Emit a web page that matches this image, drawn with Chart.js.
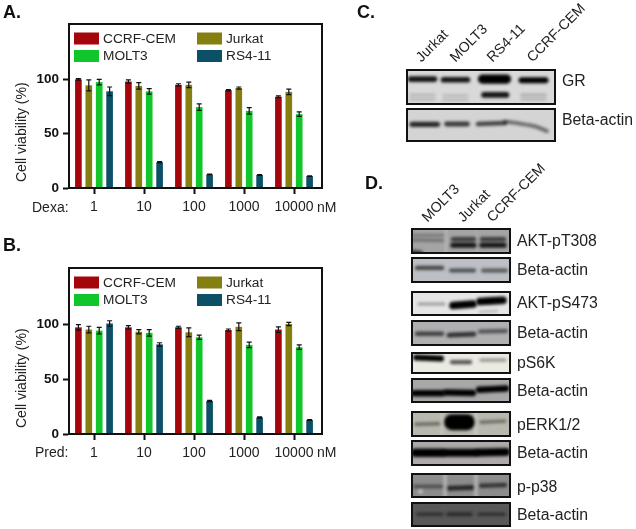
<!DOCTYPE html>
<html>
<head>
<meta charset="utf-8">
<script src="https://cdn.jsdelivr.net/npm/chart.js@4"></script>
<style>
  body { margin: 0; background: #fff; width: 636px; height: 529px; position: relative; overflow: hidden;
         font-family: "Liberation Sans", Arial, sans-serif; color: #222; }
  #page { position: absolute; left: 0; top: 0; width: 636px; height: 529px; filter: blur(0.3px); }
  canvas { position: absolute; }
  .txt { position: absolute; white-space: nowrap; line-height: 1; }
  .panel { font-weight: bold; font-size: 18px; color: #111; }
  .side { font-size: 15.8px; transform: translateY(-50%); }
  .lane { font-size: 14.2px; transform-origin: 0 100%; transform: rotate(-45deg); }
  .x { font-size: 14px; transform: translateY(-50%); }
  .ylab { font-size: 14px; transform-origin: 0 0; transform: rotate(-90deg); }
</style>
</head>
<body>
<div id="page"></div>
<script>
// bar charts
const doses = ['1', '10', '100', '1000', '10000'];
const cellLines = ['CCRF-CEM', 'Jurkat', 'MOLT3', 'RS4-11'];
const lineColors = ['#a5060c', '#857e10', '#10c62a', '#0c5068'];
const yTicks = [0, 50, 100];

const dexaCem = [100, 98, 95, 90, 84];
const dexaJurkat = [94.5, 94, 95, 92, 88.5];
const dexaMolt = [97.5, 89, 74.5, 71, 68];
const dexaRs = [89, 23.7, 12.5, 12, 11];
const dexaCemErr = [0.7, 1.5, 1, 0.6, 0.8];
const dexaJurkatErr = [5, 3, 2.5, 1, 2.5];
const dexaMoltErr = [2.5, 2.5, 3, 3, 2];
const dexaRsErr = [4, 0.5, 0.3, 0.3, 0.3];

const predCem = [97, 97, 97, 94.5, 95];
const predJurkat = [95, 93, 92.5, 97.5, 100];
const predMolt = [94, 92, 88, 81, 79];
const predRs = [100.5, 81.5, 30, 15, 12.7];
const predCemErr = [2.5, 1.5, 1, 1, 2.5];
const predJurkatErr = [3, 2, 4, 3.5, 1.5];
const predMoltErr = [3, 3, 2, 2.5, 2];
const predRsErr = [2.5, 1.5, 0.5, 0.5, 0.3];

// blots: each band is [signal, x, y, x, y, ...] in percent of the membrane
// negative signal = paler streak (gaps between lanes, spots)
const grBands = [
  [0.9, 3, 28, 19, 28], [0.9, 25, 30, 41, 30], [1.8, 51, 28, 67, 28], [1, 77, 31, 93, 31],
  [0.9, 52, 72, 67, 72], [0.1, 3, 72, 19, 72], [0.08, 3, 84, 19, 84], [0.08, 25, 74, 41, 74],
  [0.08, 25, 86, 41, 86], [0.14, 77, 72, 93, 72], [0.1, 77, 84, 93, 84]
];
const actinCBands = [
  [0.8, 4, 48, 21, 48], [0.7, 27, 47, 41, 47], [0.65, 48, 47, 66, 44],
  [0.45, 66, 40, 76, 46, 86, 54, 94, 68]
];
const t308Bands = [
  [-0.2, 35, 0, 35, 100], [-0.1, 66, 0, 66, 100],
  [0.2, 2, 28, 32, 28], [0.25, 2, 46, 32, 48], [0.6, 2, 92, 10, 96],
  [0.6, 42, 43, 63, 43], [0.85, 42, 66, 63, 66], [0.6, 71, 43, 93, 43], [0.85, 71, 66, 93, 66]
];
const actin1Bands = [[0.6, 6, 42, 31, 42], [0.55, 40, 52, 63, 52], [0.5, 72, 52, 95, 52]];
const s473Bands = [
  [0.25, 8, 52, 33, 52], [1.4, 42, 58, 62, 52], [1.4, 69, 42, 92, 37], [0.12, 69, 84, 86, 80]
];
const actin2Bands = [[0.6, 6, 53, 31, 53], [0.7, 38, 58, 63, 54], [0.5, 69, 44, 95, 42]];
const s6kBands = [[1, 5, 25, 30, 30], [0.6, 41, 46, 59, 46], [0.3, 70, 37, 94, 37]];
const actin3Bands = [[1.1, 3, 61, 31, 61], [1.1, 35, 58, 62, 60], [1.1, 68, 47, 95, 42]];
const erkBands = [
  [-0.2, 31, 0, 31, 100], [-0.25, 65, 0, 65, 100],
  [0.35, 5, 51, 28, 49], [3.5, 41, 43, 56, 43], [0.35, 70, 43, 94, 39]
];
const actin4Bands = [[1.6, 4, 49, 31, 49], [1.5, 35, 49, 64, 49], [1.5, 68, 48, 95, 46]];
const p38Bands = [
  [-0.35, 34, 0, 34, 100], [-0.35, 65, 0, 65, 100], [-0.5, 9, 74, 10, 74],
  [0.4, 4, 54, 31, 54], [0.7, 38, 61, 61, 58], [0.6, 70, 51, 94, 48]
];
const actin5Bands = [[0.4, 7, 49, 31, 49], [0.45, 37, 49, 60, 49], [0.4, 68, 49, 93, 49]];

// membrane backgrounds
const shadeGr = '#d9d9d9', shadeActinC = '#d4d4d4', shadeT308 = '#a4a4a4', shadeActin1 = '#bcc0c4',
  shadeS473 = '#e6e6e6', shadeActin2 = '#b0b0b2', shadeS6k = '#ebebe3', shadeActin3 = '#a8a8a8',
  shadeErk = '#b8b8ae', shadeActin4 = '#aeaaaa', shadeP38 = '#8c8c8c', shadeActin5 = '#585858';

const page = document.getElementById('page');

function addText(cls, text, left, top) {
  const el = document.createElement('div');
  el.className = 'txt ' + cls;
  el.textContent = text;
  el.style.left = left + 'px';
  el.style.top = top + 'px';
  page.appendChild(el);
}

function addCanvas(left, top, w, h) {
  const c = document.createElement('canvas');
  c.width = w;
  c.height = h;
  c.style.left = left + 'px';
  c.style.top = top + 'px';
  page.appendChild(c);
  return c;
}

// error bars on top of each bar
const errorBars = {
  id: 'errorBars',
  afterDatasetsDraw(chart) {
    const { ctx, scales } = chart;
    ctx.save();
    ctx.strokeStyle = '#111';
    ctx.lineWidth = 1.2;
    chart.data.datasets.forEach((ds, i) => {
      chart.getDatasetMeta(i).data.forEach((bar, j) => {
        const hi = scales.y.getPixelForValue(ds.data[j] + ds.err[j]);
        const lo = scales.y.getPixelForValue(ds.data[j] - ds.err[j]);
        ctx.beginPath();
        ctx.moveTo(bar.x, hi);
        ctx.lineTo(bar.x, lo);
        ctx.moveTo(bar.x - 2.5, hi);
        ctx.lineTo(bar.x + 2.5, hi);
        ctx.moveTo(bar.x - 2.5, lo);
        ctx.lineTo(bar.x + 2.5, lo);
        ctx.stroke();
      });
    });
    ctx.restore();
  }
};

// box round the plot plus the two column legend inside it
const frameLegend = {
  id: 'frameLegend',
  afterDraw(chart) {
    const { ctx, chartArea: a } = chart;
    ctx.save();
    ctx.strokeStyle = '#111';
    ctx.lineWidth = 2;
    ctx.strokeRect(a.left, a.top, a.right - a.left + 3, a.bottom - a.top);
    ctx.font = '13.7px "Liberation Sans"';
    ctx.textBaseline = 'middle';
    chart.data.datasets.forEach((ds, i) => {
      const x = a.left + (i % 2 ? 128 : 5);
      const y = a.top + 8.5 + Math.floor(i / 2) * 17.5;
      ctx.fillStyle = ds.backgroundColor;
      ctx.fillRect(x, y, 25, 12);
      ctx.fillStyle = '#222';
      ctx.fillText(ds.label, x + 29, y + 6.5);
    });
    ctx.restore();
  }
};

function barChart(left, top, padTop, plotH, series, errs) {
  const canvas = addCanvas(left, top, 350, padTop + plotH + 27);
  new Chart(canvas, {
    type: 'bar',
    data: {
      labels: doses,
      datasets: cellLines.map((name, i) => ({
        label: name, data: series[i], err: errs[i], backgroundColor: lineColors[i]
      }))
    },
    plugins: [errorBars, frameLegend],
    options: {
      responsive: false,
      animation: false,
      categoryPercentage: 0.832,
      barPercentage: 0.64,
      layout: { padding: { top: padTop, right: 31, left: 0, bottom: 0 } },
      plugins: { legend: { display: false }, tooltip: { enabled: false } },
      scales: {
        x: {
          afterFit(s) { s.height = 27; },
          grid: { offset: false, drawOnChartArea: false, tickLength: 6, tickWidth: 2, tickColor: '#111' },
          border: { color: '#111', width: 2 },
          ticks: { color: '#222', font: { family: 'Liberation Sans', size: 14 }, padding: 5, maxRotation: 0 }
        },
        y: {
          min: 0,
          max: 151,
          afterFit(s) { s.width = 69; },
          afterBuildTicks(s) { s.ticks = yTicks.map(v => ({ value: v })); },
          grid: { drawOnChartArea: false, tickLength: 6, tickWidth: 2, tickColor: '#111' },
          border: { color: '#111', width: 2 },
          ticks: { color: '#111', font: { family: 'Liberation Sans', size: 13.5, weight: 'bold' }, padding: 4 }
        }
      }
    }
  });
}

// tints the membrane, blurs the bands, draws the black border
const membrane = {
  id: 'membrane',
  beforeDraw(chart, args, opts) {
    chart.ctx.fillStyle = opts.shade;
    chart.ctx.fillRect(0, 0, chart.width, chart.height);
  },
  beforeDatasetsDraw(chart) {
    chart.ctx.save();
    chart.ctx.filter = 'blur(1.4px)';
  },
  afterDatasetsDraw(chart) {
    chart.ctx.restore();
  },
  afterDraw(chart) {
    chart.ctx.strokeStyle = '#111';
    chart.ctx.lineWidth = 2;
    chart.ctx.strokeRect(1, 1, chart.width - 2, chart.height - 2);
  }
};

function blot(left, top, w, h, bands, shade) {
  new Chart(addCanvas(left, top, w, h), {
    type: 'scatter',
    data: {
      datasets: bands.map(b => {
        const pts = [];
        for (let i = 1; i < b.length; i += 2) pts.push({ x: b[i], y: b[i + 1] });
        const s = Math.abs(b[0]);
        return {
          data: pts,
          showLine: true,
          pointRadius: 0,
          tension: 0.3,
          borderCapStyle: 'round',
          borderWidth: 2 + 4 * s,
          borderColor: b[0] < 0 ? 'rgba(255,255,255,' + s + ')' : 'rgba(0,0,0,' + Math.min(1, 0.1 + s * 0.9) + ')'
        };
      })
    },
    plugins: [membrane],
    options: {
      responsive: false,
      animation: false,
      plugins: { legend: { display: false }, tooltip: { enabled: false }, membrane: { shade } },
      scales: {
        x: { type: 'linear', min: 0, max: 100, display: false },
        y: { type: 'linear', min: 0, max: 100, reverse: true, display: false }
      }
    }
  });
}

barChart(0, 0, 24, 164, [dexaCem, dexaJurkat, dexaMolt, dexaRs], [dexaCemErr, dexaJurkatErr, dexaMoltErr, dexaRsErr]);
barChart(0, 245, 23, 166, [predCem, predJurkat, predMolt, predRs], [predCemErr, predJurkatErr, predMoltErr, predRsErr]);

blot(406, 69, 150, 36, grBands, shadeGr);
blot(406, 108, 150, 34, actinCBands, shadeActinC);
blot(411, 228, 100, 26, t308Bands, shadeT308);
blot(411, 257, 100, 26, actin1Bands, shadeActin1);
blot(411, 291, 100, 25, s473Bands, shadeS473);
blot(411, 320, 100, 26, actin2Bands, shadeActin2);
blot(411, 352, 100, 22, s6kBands, shadeS6k);
blot(411, 378, 100, 25, actin3Bands, shadeActin3);
blot(411, 411, 100, 26, erkBands, shadeErk);
blot(411, 440, 100, 26, actin4Bands, shadeActin4);
blot(411, 473, 100, 25, p38Bands, shadeP38);
blot(411, 502, 100, 25, actin5Bands, shadeActin5);

addText('panel', 'A.', 3, 3);
addText('panel', 'B.', 3, 236);
addText('panel', 'C.', 357, 3);
addText('panel', 'D.', 365, 174);

addText('ylab', 'Cell viability (%)', 14, 182);
addText('ylab', 'Cell viability (%)', 14, 428);

addText('x', 'Dexa:', 32, 207);
addText('x', 'nM', 317, 207);
addText('x', 'Pred:', 35, 452);
addText('x', 'nM', 317, 452);

addText('side', 'GR', 562, 81);
addText('side', 'Beta-actin', 562, 120);
addText('side', 'AKT-pT308', 517, 241);
addText('side', 'Beta-actin', 517, 270);
addText('side', 'AKT-pS473', 517, 303);
addText('side', 'Beta-actin', 517, 333);
addText('side', 'pS6K', 517, 363);
addText('side', 'Beta-actin', 517, 391);
addText('side', 'pERK1/2', 517, 425);
addText('side', 'Beta-actin', 517, 453);
addText('side', 'p-p38', 517, 487);
addText('side', 'Beta-actin', 517, 515);

addText('lane', 'Jurkat', 423, 50);
addText('lane', 'MOLT3', 457, 50);
addText('lane', 'RS4-11', 494, 50);
addText('lane', 'CCRF-CEM', 534, 50);
addText('lane', 'MOLT3', 429, 210);
addText('lane', 'Jurkat', 465, 210);
addText('lane', 'CCRF-CEM', 494, 210);
</script>
</body>
</html>
